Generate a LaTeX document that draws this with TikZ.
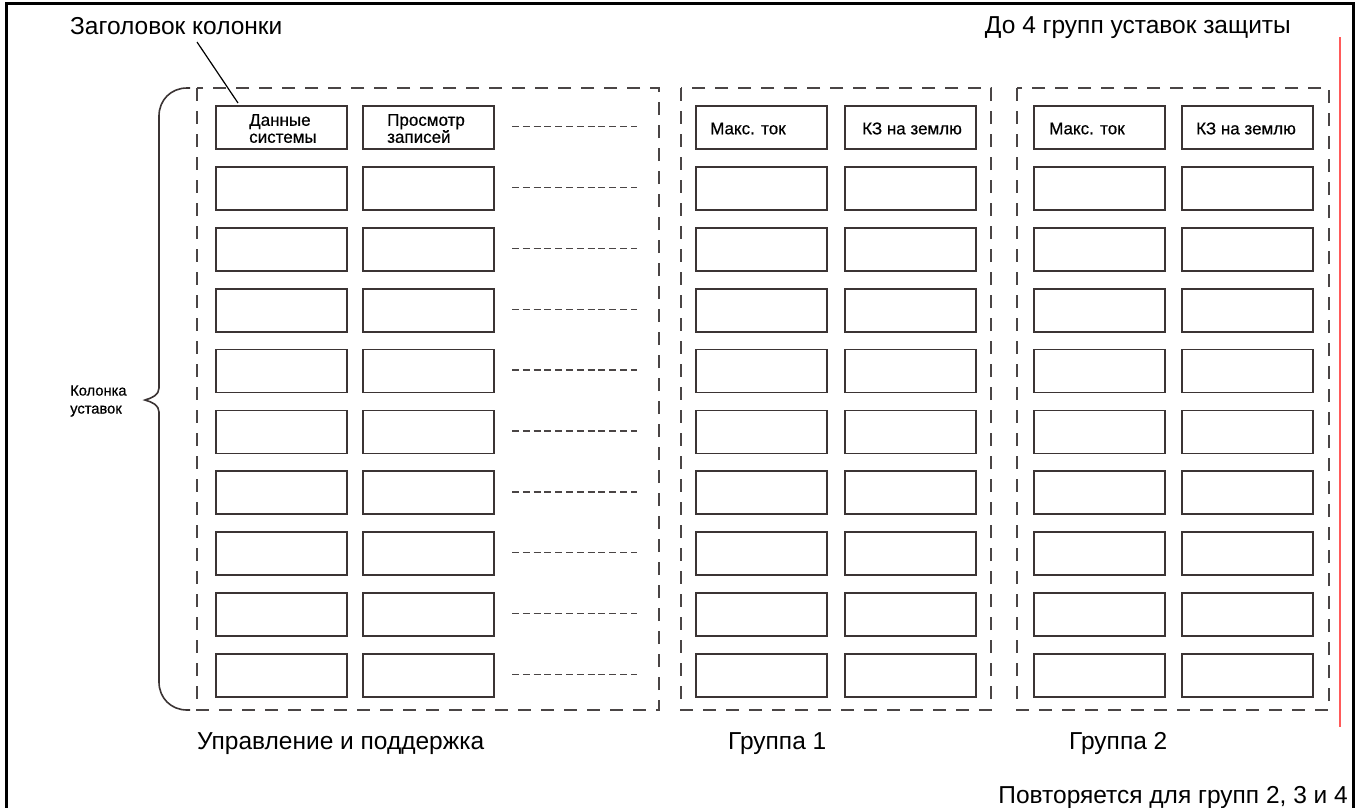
\documentclass[tikz,border=0pt]{standalone}
\usepackage{fontspec}
\setmainfont{Liberation Sans}
\newfontfamily\smallfont[FakeBold=0.6]{Liberation Sans}
\definecolor{boxc}{HTML}{3B3434}
\definecolor{dashc}{HTML}{4A4545}
\definecolor{redl}{HTML}{FF5A5A}
\begin{document}
\begin{tikzpicture}[x=1pt,y=-1pt,
  cell/.style={draw=boxc, line width=1.8pt, minimum width=131pt, minimum height=43pt, inner sep=0pt, anchor=north west},
  grp/.style={draw=dashc, line width=1.8pt, dash pattern=on 13pt off 10pt},
  dots/.style={draw=dashc, line width=1.3pt, dash pattern=on 7pt off 3.8pt},
  title/.style={font=\fontsize{24.5}{28}\selectfont, inner sep=0pt},
  hdr/.style={font=\smallfont\fontsize{17}{17}\selectfont, inner sep=0pt, align=left, anchor=west},
  side/.style={font=\smallfont\fontsize{14.7}{18}\selectfont, inner sep=0pt, align=left, anchor=west},
  ]
\useasboundingbox (0,0) rectangle (1360,807);
% frame
\draw[line width=3pt] (6,815) -- (6,3) -- (1353,3) -- (1353,815);
% red line
\draw[redl, line width=1.1pt] (1340,37) -- (1340,727);
% brace
\draw[boxc, line width=1.6pt] (190,88) -- (187,88) .. controls (171,88) and (159,100) .. (159,116) -- (159,388)
  .. controls (159,395) and (152,398) .. (145,400) .. controls (152,402) and (159,405) .. (159,412)
  -- (159,682) .. controls (159,698) and (171,710) .. (187,710) -- (190,710);
% groups
\draw[grp] (197,88) rectangle (659,710);
\draw[grp] (681,88) rectangle (991,710);
\draw[grp] (1017,88) rectangle (1329,710);
% cells
\foreach \g/\xa/\xb in {L/215/362, A/695/844, B/1033/1181} {
  \foreach \r in {1,...,10} {
    \pgfmathsetmacro\yy{105+60.9*(\r-1)}
    \node[cell] (\g-1-\r) at (\xa,\yy) {};
    \node[cell] (\g-2-\r) at (\xb,\yy) {};
  }
}
% dotted continuation lines
\foreach \r in {1,...,10} {
  \pgfmathsetmacro\yy{126.5+60.9*(\r-1)}
  \coordinate (da\r) at (512,\yy);
  \coordinate (db\r) at (637,\yy);
  \draw[dots] (da\r) -- (db\r);
}
% header texts
\node[hdr] (h-L1) at (249,128.5) {Данные\\системы};
\node[hdr] (h-L2) at (387,128.5) {Просмотр\\записей};
\node[hdr] (h-A1) at (710,128.5) {Макс. ток};
\node[hdr] (h-A2) at (862,128.5) {КЗ на землю};
\node[hdr] (h-B1) at (1049,128.5) {Макс. ток};
\node[hdr] (h-B2) at (1196,128.5) {КЗ на землю};
% titles
\node[title, anchor=base west] (t-col) at (70,34) {Заголовок колонки};
\node[title, anchor=base east] (t-up) at (1291,33) {До 4 групп уставок защиты};
\node[title, anchor=base west] (t-ctl) at (197,749) {Управление и поддержка};
\node[title, anchor=base west] (t-g1) at (728,749) {Группа 1};
\node[title, anchor=base west] (t-g2) at (1069,749) {Группа 2};
\node[title, anchor=base east] (t-rep) at (1348,803) {Повторяется для групп 2, 3 и 4};
\node[side] (t-side) at (70,401) {Колонка\\уставок};
% leader
\coordinate (la) at (197,42);
\coordinate (lb) at (238,103);
\draw[black, line width=1.2pt] (la) -- (lb);
\end{tikzpicture}
\end{document}
